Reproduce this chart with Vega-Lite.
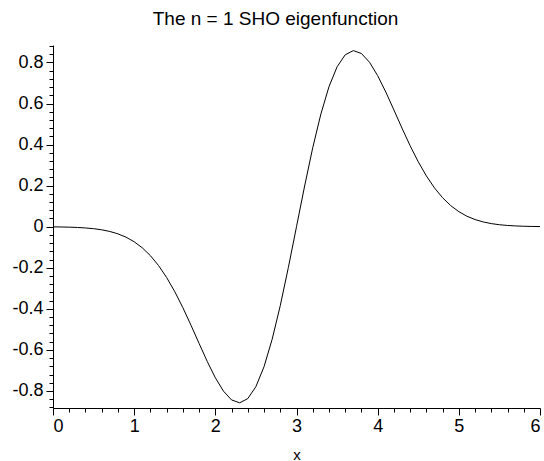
{
  "$schema": "https://vega.github.io/schema/vega-lite/v6.json",
  "width": 487,
  "height": 363,
  "autosize": {"type": "none"},
  "padding": {"left": 53, "top": 45, "right": 4, "bottom": 53},
  "background": "white",
  "title": {
    "text": "The n = 1 SHO eigenfunction",
    "font": "Liberation Sans",
    "fontSize": 19,
    "fontWeight": "normal",
    "color": "black",
    "anchor": "middle",
    "dx": -21,
    "offset": 8
  },
  "config": {
    "view": {"stroke": null},
    "axis": {
      "labelFont": "Liberation Sans",
      "titleFont": "Liberation Sans",
      "labelColor": "black",
      "titleColor": "black",
      "domainColor": "black",
      "tickColor": "black",
      "grid": false,
      "labelOverlap": false,
      "labelFlush": false
    }
  },
  "data": {
    "values": [
      {"x": 0.0, "psi": -0.00074},
      {"x": 0.1, "psi": -0.00129},
      {"x": 0.2, "psi": -0.00221},
      {"x": 0.3, "psi": -0.00369},
      {"x": 0.4, "psi": -0.00603},
      {"x": 0.5, "psi": -0.00965},
      {"x": 0.6, "psi": -0.01512},
      {"x": 0.7, "psi": -0.02319},
      {"x": 0.8, "psi": -0.03479},
      {"x": 0.9, "psi": -0.05105},
      {"x": 1.0, "psi": -0.07326},
      {"x": 1.1, "psi": -0.10280},
      {"x": 1.2, "psi": -0.14099},
      {"x": 1.3, "psi": -0.18896},
      {"x": 1.4, "psi": -0.24738},
      {"x": 1.5, "psi": -0.31620},
      {"x": 1.6, "psi": -0.39440},
      {"x": 1.7, "psi": -0.47975},
      {"x": 1.8, "psi": -0.56863},
      {"x": 1.9, "psi": -0.65603},
      {"x": 2.0, "psi": -0.73576},
      {"x": 2.1, "psi": -0.80074},
      {"x": 2.2, "psi": -0.84367},
      {"x": 2.3, "psi": -0.85768},
      {"x": 2.4, "psi": -0.83721},
      {"x": 2.5, "psi": -0.77880},
      {"x": 2.6, "psi": -0.68172},
      {"x": 2.7, "psi": -0.54836},
      {"x": 2.8, "psi": -0.38432},
      {"x": 2.9, "psi": -0.19801},
      {"x": 3.0, "psi": 0.0},
      {"x": 3.1, "psi": 0.19801},
      {"x": 3.2, "psi": 0.38432},
      {"x": 3.3, "psi": 0.54836},
      {"x": 3.4, "psi": 0.68172},
      {"x": 3.5, "psi": 0.77880},
      {"x": 3.6, "psi": 0.83721},
      {"x": 3.7, "psi": 0.85768},
      {"x": 3.8, "psi": 0.84367},
      {"x": 3.9, "psi": 0.80074},
      {"x": 4.0, "psi": 0.73576},
      {"x": 4.1, "psi": 0.65603},
      {"x": 4.2, "psi": 0.56863},
      {"x": 4.3, "psi": 0.47975},
      {"x": 4.4, "psi": 0.39440},
      {"x": 4.5, "psi": 0.31620},
      {"x": 4.6, "psi": 0.24738},
      {"x": 4.7, "psi": 0.18896},
      {"x": 4.8, "psi": 0.14099},
      {"x": 4.9, "psi": 0.10280},
      {"x": 5.0, "psi": 0.07326},
      {"x": 5.1, "psi": 0.05105},
      {"x": 5.2, "psi": 0.03479},
      {"x": 5.3, "psi": 0.02319},
      {"x": 5.4, "psi": 0.01512},
      {"x": 5.5, "psi": 0.00965},
      {"x": 5.6, "psi": 0.00603},
      {"x": 5.7, "psi": 0.00369},
      {"x": 5.8, "psi": 0.00221},
      {"x": 5.9, "psi": 0.00129},
      {"x": 6.0, "psi": 0.00074}
    ]
  },
  "mark": {"type": "line", "color": "black", "strokeWidth": 1, "clip": true},
  "encoding": {
    "x": {
      "field": "x",
      "type": "quantitative",
      "scale": {"domain": [0, 6], "nice": false, "zero": false},
      "axis": {
        "title": "x",
        "titleFontSize": 15,
        "titleFontWeight": "normal",
        "titlePadding": 12,
        "labelFontSize": 18,
        "labelPadding": 2,
        "labelFlush": true,
        "values": [0,0.2,0.4,0.6,0.8,1,1.2,1.4,1.6,1.8,2,2.2,2.4,2.6,2.8,3,3.2,3.4,3.6,3.8,4,4.2,4.4,4.6,4.8,5,5.2,5.4,5.6,5.8,6],
        "labelExpr": "abs(datum.value - round(datum.value)) < 0.001 ? datum.value + '' : ''",
        "tickSize": {"condition": {"test": "abs(datum.value - round(datum.value)) < 0.001", "value": 7}, "value": 4}
      }
    },
    "y": {
      "field": "psi",
      "type": "quantitative",
      "scale": {"domain": [-0.883, 0.885], "nice": false, "zero": false},
      "axis": {
        "title": null,
        "labelFontSize": 18,
        "labelPadding": 3,
        "values": [-0.88,-0.84,-0.8,-0.76,-0.72,-0.68,-0.64,-0.6,-0.56,-0.52,-0.48,-0.44,-0.4,-0.36,-0.32,-0.28,-0.24,-0.2,-0.16,-0.12,-0.08,-0.04,0,0.04,0.08,0.12,0.16,0.2,0.24,0.28,0.32,0.36,0.4,0.44,0.48,0.52,0.56,0.6,0.64,0.68,0.72,0.76,0.8,0.84,0.88],
        "labelExpr": "abs(datum.value*5 - round(datum.value*5)) < 0.001 ? datum.value + '' : ''",
        "tickSize": {"condition": {"test": "abs(datum.value*5 - round(datum.value*5)) < 0.001", "value": 7}, "value": 4}
      }
    }
  }
}
